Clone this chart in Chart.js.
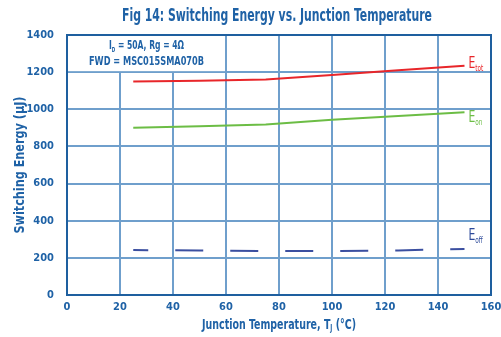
<!DOCTYPE html>
<html>
<head>
<meta charset="utf-8">
<script src="https://cdn.jsdelivr.net/npm/chart.js@4"></script>
<style>
  html, body { margin: 0; padding: 0; background: #fff; }
  #wrap { width: 501px; height: 337px; }
</style>
</head>
<body>
<div id="wrap"><canvas id="energyChart"></canvas></div>
<script>
const temps = [25, 50, 75, 100, 125, 150];
const eTot = [1150, 1154, 1160, 1185, 1210, 1235];
const eOn = [901, 908, 918, 944, 964, 984];
const eOff = [242, 240, 237, 236, 240, 248];
const xTicks = [0, 20, 40, 60, 80, 100, 120, 140, 160];
const yTicks = [0, 200, 400, 600, 800, 1000, 1200, 1400];

const BLUE = '#1f62a6';
const FONT = '"DejaVu Sans Condensed", "Liberation Sans Narrow", sans-serif';

function pts(vals) {
    return temps.map((t, i) => ({ x: t, y: vals[i] }));
}

// draws a run of [text, size, dy] parts squeezed horizontally to a target width, centred on cx
function squeezed(ctx, parts, cx, cy, targetW) {
    let w = 0;
    parts.forEach(p => {
        ctx.font = `bold ${p[1]}px ${FONT}`;
        p.w = ctx.measureText(p[0]).width;
        w += p.w;
    });
    const k = targetW / w;
    ctx.save();
    ctx.translate(cx - targetW / 2, cy);
    ctx.scale(k, 1);
    ctx.textAlign = 'left';
    ctx.textBaseline = 'middle';
    let sx = 0;
    parts.forEach(p => {
        ctx.font = `bold ${p[1]}px ${FONT}`;
        ctx.fillText(p[0], sx, p[2] || 0);
        sx += p.w;
    });
    ctx.restore();
}

const overlayPlugin = {
    id: 'overlay',
    beforeDatasetsDraw: (chart) => {
        const ctx = chart.ctx;
        const x = chart.scales.x, y = chart.scales.y;
        const a = chart.chartArea;

        // white note box over the top-left cells
        const l = x.getPixelForValue(0), r = x.getPixelForValue(60);
        const t = y.getPixelForValue(1400), b = y.getPixelForValue(1200);
        ctx.save();
        ctx.fillStyle = '#fff';
        ctx.fillRect(l + 1, t + 1, r - l - 2, b - t - 2);

        // full frame
        ctx.strokeStyle = '#1e5f9f';
        ctx.lineWidth = 2;
        ctx.strokeRect(a.left, a.top, a.right - a.left, a.bottom - a.top);

        // note text
        ctx.fillStyle = BLUE;
        const cx = (l + r) / 2;
        squeezed(ctx, [['I', 13], ['D', 7, 4], [' = 50A, Rg = 4\u03a9', 13]], cx, t + 11, 75);
        squeezed(ctx, [['FWD = MSC015SMA070B', 13]], cx, t + 27, 115);
        ctx.restore();
    },
    afterDraw: (chart) => {
        const ctx = chart.ctx;
        const x = chart.scales.x, y = chart.scales.y;
        const a = chart.chartArea;
        ctx.save();
        ctx.textBaseline = 'middle';
        ctx.textAlign = 'left';

        // series labels at line ends
        const labels = [
            { sub: 'tot', vals: eTot, color: '#e8262a', dy: -2 },
            { sub: 'on', vals: eOn, color: '#6cbd45', dy: 6 },
            { sub: 'off', vals: eOff, color: '#2d4a9a', dy: -13 }
        ];
        labels.forEach(s => {
            const n = temps.length - 1;
            const lx = x.getPixelForValue(temps[n]) + 4;
            const ly = y.getPixelForValue(s.vals[n]) + s.dy;
            ctx.fillStyle = s.color;
            ctx.save();
            ctx.translate(lx, ly);
            ctx.scale(0.8, 1);
            ctx.font = `15px ${FONT}`;
            ctx.fillText('E', 0, 0);
            const w = ctx.measureText('E').width;
            ctx.font = `8px ${FONT}`;
            ctx.fillText(s.sub, w, 5);
            ctx.restore();
        });

        // axis titles
        ctx.fillStyle = BLUE;
        ctx.save();
        ctx.translate(20, (a.top + a.bottom) / 2);
        ctx.rotate(-Math.PI / 2);
        squeezed(ctx, [['Switching Energy (\u00b5J)', 14]], 0, 0, 137);
        ctx.restore();

        squeezed(ctx, [['Junction Temperature, T', 14], ['J', 8, 4], [' (\u00b0C)', 14]],
            (a.left + a.right) / 2, 325, 154);

        // figure title
        squeezed(ctx, [['Fig 14: Switching Energy vs. Junction Temperature', 17]], 277, 17, 310);
        ctx.restore();
    }
};

document.addEventListener('DOMContentLoaded', function () {
    const tickFont = { family: FONT, size: 11, weight: 'bold' };
    const config = {
        type: 'line',
        data: {
            datasets: [
                { label: 'Etot', data: pts(eTot), borderColor: '#e8262a', borderWidth: 2, pointRadius: 0, tension: 0 },
                { label: 'Eon', data: pts(eOn), borderColor: '#6cbd45', borderWidth: 2, pointRadius: 0, tension: 0 },
                { label: 'Eoff', data: pts(eOff), borderColor: '#3b4fa0', borderWidth: 2, pointRadius: 0, tension: 0,
                  borderDash: [28, 27], borderDashOffset: 13 }
            ]
        },
        options: {
            responsive: true,
            maintainAspectRatio: false,
            animation: false,
            layout: { padding: { top: 35, right: 10, left: 0, bottom: 0 } },
            plugins: {
                legend: { display: false },
                tooltip: { enabled: false },
                title: { display: false }
            },
            scales: {
                x: {
                    type: 'linear',
                    min: 0, max: 160,
                    afterBuildTicks: (s) => { s.ticks = xTicks.map(v => ({ value: v })); },
                    afterFit: (s) => { s.height = 42; s.paddingRight = 0; s.paddingLeft = 0; },
                    grid: { color: '#6f9fcc', lineWidth: 2, drawTicks: false },
                    border: { color: '#1e5f9f', width: 2 },
                    ticks: { color: BLUE, padding: 6, font: tickFont, callback: (v) => String(v) }
                },
                y: {
                    min: 0, max: 1400,
                    afterBuildTicks: (s) => { s.ticks = yTicks.map(v => ({ value: v })); },
                    afterFit: (s) => { s.width = 67; s.paddingTop = 0; s.paddingBottom = 0; },
                    grid: { color: '#6f9fcc', lineWidth: 2, drawTicks: false },
                    border: { color: '#1e5f9f', width: 2 },
                    ticks: { color: BLUE, padding: 13, font: tickFont, callback: (v) => String(v) }
                }
            }
        },
        plugins: [overlayPlugin]
    };

    new Chart(document.getElementById('energyChart'), config);
});
</script>
</body>
</html>
